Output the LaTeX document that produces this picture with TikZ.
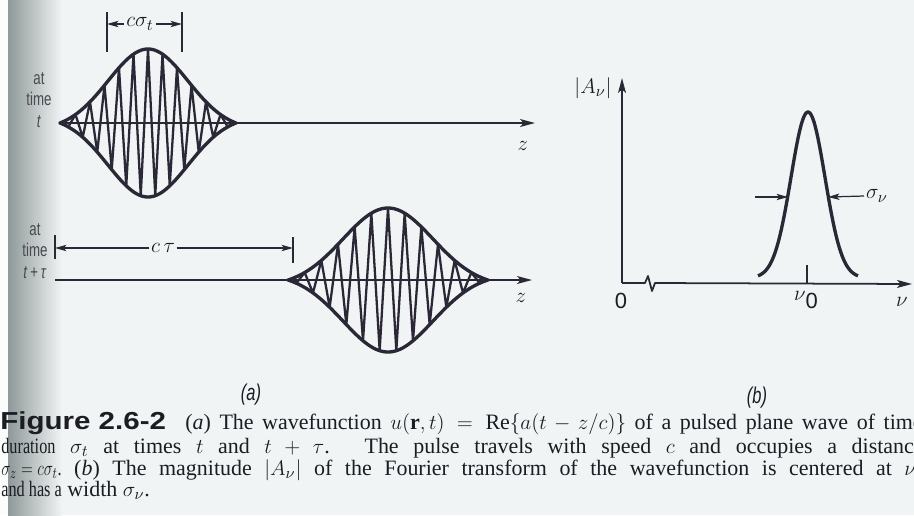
\documentclass[tikz,border=0pt]{standalone}
\usepackage{fontspec}
\setmainfont{Liberation Serif}
\newfontfamily\condsans[FakeStretch=0.72]{Liberation Sans}
\newfontfamily\figsans{Liberation Sans}
\usetikzlibrary{arrows.meta, calc}
\definecolor{scanPaper} {HTML}{F1F4F4}
\definecolor{scanShadow}{HTML}{8F9999}
\definecolor{scanInk}   {HTML}{2A2836}
\definecolor{scanText}  {HTML}{1C1C24}
\newcommand{\squeeze}[1]{\scalebox{0.74}[1]{#1}}
\tikzset{
  envelope/.style = {draw=scanInk, line width=1.9pt, line join=round},
  carrier/.style  = {draw=scanInk, line width=1.3pt, line join=round},
  axisline/.style = {draw=scanInk, line width=1pt,
                     -{Stealth[length=8.5pt, width=4.5pt, inset=2pt]}},
  dimarrow/.style = {draw=scanInk, line width=0.7pt,
                     -{Stealth[length=6.5pt, width=3.6pt, inset=1.5pt]}},
  bar/.style      = {draw=scanInk, line width=1pt},
  timelabel/.style= {font=\condsans\fontsize{10.5}{12.3}\selectfont,
                     text=scanText!80, align=center, inner sep=0pt},
  mathlabel/.style= {font=\fontsize{12.5}{14}\selectfont, text=scanText,
                     inner sep=1pt},
  partlabel/.style= {font=\condsans\itshape\fontsize{13}{14}\selectfont,
                     text=scanText},
  capline/.style  = {anchor=base west, inner sep=0pt, text=scanText,
                     font=\fontsize{12.5}{12.5}\selectfont},
  declare function={
    envA(\x) = 74*(exp(-((\x-148)/40)^2/2)-0.089)/0.911;
    envB(\x) = 72*(exp(-((\x-388)/45)^2/2)-0.085)/0.915;
    spec(\x) = 166*exp(-((\x-808)/17)^2/2);
  }
}

\begin{document}
\begin{tikzpicture}[x=0.02cm, y=-0.02cm]
  \useasboundingbox (0,0) rectangle (914,515);
  \clip (0,0) rectangle (914,515);
  \fill[scanPaper] (0,0) rectangle (914,515);
  \fill[white!70!scanPaper] (0,0) rectangle (8,515);
  \shade[left color=scanShadow, right color=scanPaper] (8,0) rectangle (62,515);

  % (a) pulse at time t
  \node[timelabel] (timeA) at (39,100) {at\\time\\\textit{t}};
  \coordinate (startA) at (60,123);
  \coordinate (endA)   at (535,123);
  \node[mathlabel] (zA) at (523,146) {$z$};
  \draw[axisline] (startA) -- (endA);
  \draw[envelope] plot[domain=60:236, samples=90] (\x,{123-envA(\x)})
    -- plot[domain=236:60, samples=90] (\x,{123+envA(\x)}) -- cycle;
  \draw[carrier] plot[domain=61:235, samples=25]
    (\x,{123-envA(\x)*cos((\x-148)/7.25*180)});

  \node[mathlabel] (csig) at (140,24) {$c\sigma_t$};
  \coordinate (dimAl) at (107,24);
  \coordinate (dimAr) at (182,24);
  \draw[bar] (107,12) -- (107,52);
  \draw[bar] (182,12) -- (182,52);
  \draw[dimarrow] (csig.west) -- (dimAl);
  \draw[dimarrow] (csig.east) -- (dimAr);

  % (a) pulse at time t + tau
  \node[timelabel] (timeB) at (35,251) {at\\time\\\textit{t\,+\,τ}};
  \coordinate (startB) at (55,280);
  \coordinate (endB)   at (532,280);
  \node[mathlabel] (zB) at (521,298) {$z$};
  \draw[axisline] (startB) -- (endB);
  \draw[envelope] plot[domain=288:488, samples=90] (\x,{280-envB(\x)})
    -- plot[domain=488:288, samples=90] (\x,{280+envB(\x)}) -- cycle;
  \draw[carrier] plot[domain=288:488, samples=25]
    (\x,{280-envB(\x)*cos((\x-388)/8.333*180)});

  \node[mathlabel, fill=scanPaper] (ctau) at (163,248) {$c\,\tau$};
  \coordinate (dimBl) at (55,248);
  \coordinate (dimBr) at (293,248);
  \draw[bar] (55,235) -- (55,259);
  \draw[bar] (293,237) -- (293,263);
  \draw[dimarrow] (ctau.west) -- (dimBl);
  \draw[dimarrow] (ctau.east) -- (dimBr);

  % (b) spectrum
  \coordinate (origin) at (622,283);
  \coordinate (topAx)  at (622,78);
  \coordinate (rightAx) at (912,284);
  \node[mathlabel] (amp) at (593,88) {$|A_\nu|$};
  \node[font=\figsans\fontsize{12.5}{14}\selectfont, text=scanText] (zero) at (621,301) {0};
  \node[mathlabel] (nuzero) at (806,300) {$\nu$\raisebox{-0.8ex}{\figsans 0}};
  \node[mathlabel] (nu) at (902,302) {$\nu$};
  \draw[axisline] (origin) -- (topAx);
  \draw[axisline, line join=round] (origin) -- (645,283) -- (648,276)
    -- (652,291) -- (655,283) -- (rightAx);
  \draw[bar] (807,265) -- (807,283);
  \draw[envelope] plot[domain=758:858, samples=90] (\x,{278-spec(\x)});

  \node[mathlabel, anchor=west] (signu) at (864,196) {$\sigma_\nu$};
  \coordinate (sigL)   at (755,197);
  \coordinate (curveL) at (788,197);
  \coordinate (curveR) at (828,197);
  \draw[dimarrow] (sigL) -- (curveL);
  \draw[dimarrow] (signu.west) -- (curveR);

  \node[partlabel] (partA) at (251,395) {(a)};
  \node[partlabel] (partB) at (757,398) {(b)};

  % caption
  \node[capline] (capFig) at (0,429)
    {\figsans\bfseries\fontsize{14}{14}\selectfont\scalebox{1.2}[1]{Figure 2.6-2}};
  \node[capline] (capA) at (185,429)
    {\makebox[14.75cm][s]{(\textit{a}) The wavefunction $u(\mathbf{r},t)=\mathrm{Re}\{a(t-z/c)\}$ of a pulsed plane wave of time}};
  \node[capline] (capB) at (1,453)
    {\makebox[18.45cm][s]{\squeeze{duration} $\sigma_t$ at times $t$ and $t+\tau$. The pulse travels with speed $c$ and occupies a distance}};
  \node[capline] (capC) at (1,475)
    {\makebox[18.45cm][s]{\squeeze{$\sigma_z=c\sigma_t$.} (\textit{b}) The magnitude $|A_\nu|$ of the Fourier transform of the wavefunction is centered at $\nu_0$}};
  \node[capline] (capD) at (1,496) {\squeeze{and has a} width $\sigma_\nu$.};
\end{tikzpicture}
\end{document}
